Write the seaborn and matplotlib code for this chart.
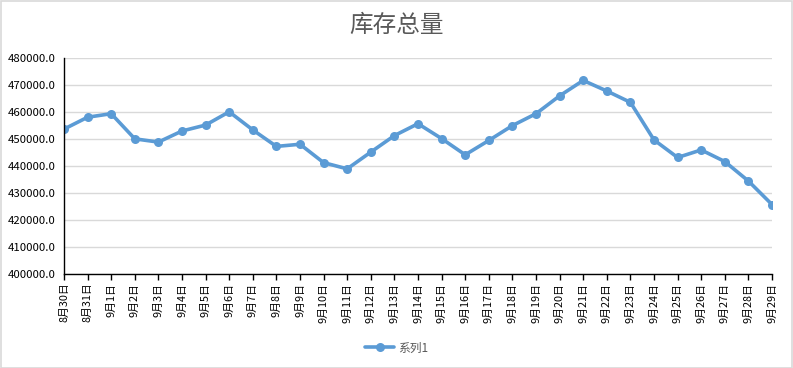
import matplotlib
matplotlib.use('Agg')

import matplotlib.pyplot as plt
import numpy as np
import pandas as pd
import seaborn as sns
from matplotlib.patches import Rectangle

# inventory totals per day
dates = ['8月30日', '8月31日'] + ['9月{}日'.format(d) for d in range(1, 30)]
stock = [453700, 458100, 459400, 450100, 448900, 453000, 455200, 460100,
         453400, 447300, 448100, 441300, 439000, 445200, 451300, 455700,
         450200, 444200, 449500, 455000, 459400, 466000, 471700, 467800,
         463600, 449700, 443200, 446000, 441700, 434500, 425800]
y_ticks = [400000, 410000, 420000, 430000, 440000, 450000, 460000, 470000, 480000]

sns.set_style('white')
plt.rcParams['font.family'] = ['Noto Sans CJK SC', 'DejaVu Sans']

df = pd.DataFrame({'idx': np.arange(len(dates)), 'date': dates, 'stock': stock})

fig = plt.figure(figsize=(7.93, 3.68), dpi=100)
ax = fig.add_axes([64 / 793, 1 - 274.3 / 368, (772 - 64) / 793, (274.3 - 58) / 368])

sns.lineplot(data=df, x='idx', y='stock', color='#5B9BD5', linewidth=2.6,
             marker='o', markersize=6.5, markeredgewidth=0, label='系列1', ax=ax)

ax.set_xlim(0, len(dates) - 1)
ax.set_ylim(400000, 480000)
ax.set_yticks(y_ticks)
ax.set_yticklabels(['{:.1f}'.format(v) for v in y_ticks], fontsize=8.2, color='#000000')
ax.set_xticks(df['idx'])
ax.set_xticklabels(dates, rotation=90, fontsize=7.8, color='#000000')
ax.tick_params(axis='x', length=4, width=1, color='#000000', pad=2, bottom=True)
ax.tick_params(axis='y', length=0, pad=6)
ax.set_xlabel('')
ax.set_ylabel('')
ax.grid(axis='y', color='#D9D9D9', linewidth=1)
ax.set_axisbelow(True)
for side in ['top', 'right']:
    ax.spines[side].set_visible(False)
for side in ['left', 'bottom']:
    ax.spines[side].set_color('#000000')
    ax.spines[side].set_linewidth(1)

leg = ax.legend(loc='center', bbox_to_anchor=(0.5, 1 - 348 / 368), bbox_transform=fig.transFigure,
                frameon=False, fontsize=8.5, handlelength=2.5, handletextpad=0.3)
for t in leg.get_texts():
    t.set_color('#595959')

fig.text(0.5, 1 - 25 / 368, '库存总量', ha='center', va='center', fontsize=17,
         color='#595959', fontweight='medium')

fig.patches.append(Rectangle((0.5 / 793, 0.5 / 368), 1 - 1.5 / 793, 1 - 1.5 / 368,
                             transform=fig.transFigure, fill=False,
                             edgecolor='#D9D9D9', linewidth=1.2))

fig.savefig('out.png', dpi=100)
plt.close()
